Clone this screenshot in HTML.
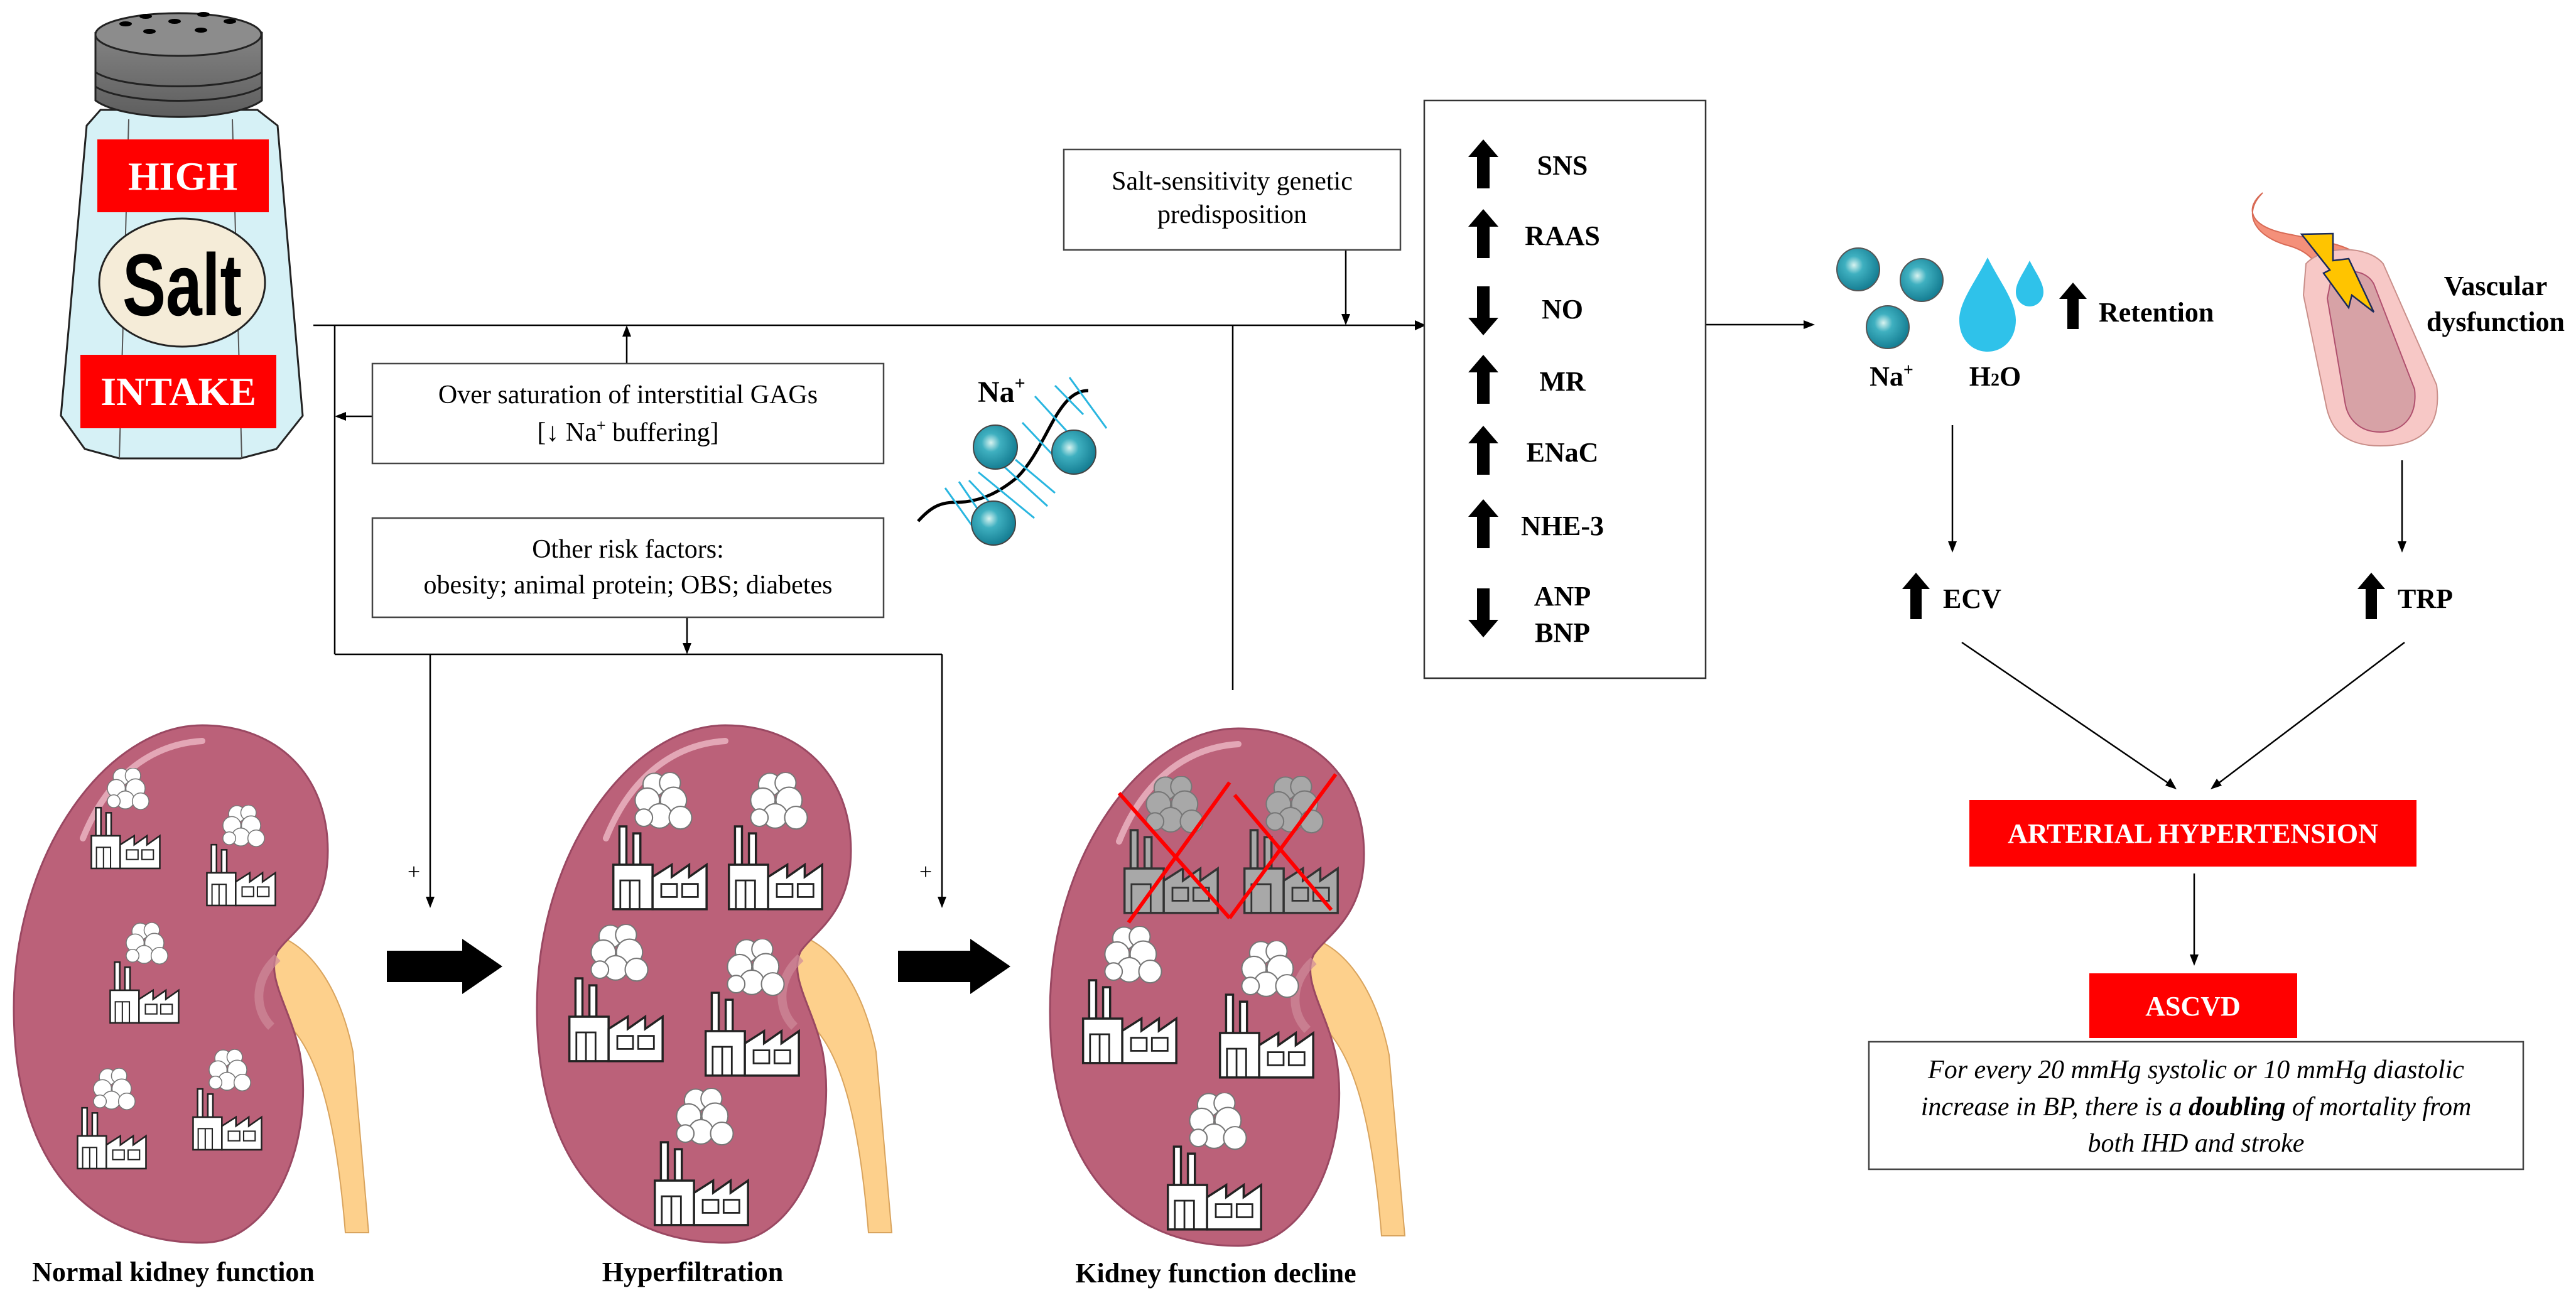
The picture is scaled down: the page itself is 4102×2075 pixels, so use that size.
<!DOCTYPE html>
<html><head><meta charset="utf-8"><style>
html,body{margin:0;padding:0;background:#fff;font-family:"Liberation Serif","DejaVu Serif",serif}
svg{display:block}
svg text{font-family:"Liberation Serif","DejaVu Serif",serif}
svg text.sans{font-family:"Liberation Sans","DejaVu Sans",sans-serif}
</style></head><body>
<svg width="4102" height="2075" viewBox="0 0 4102 2075" xmlns="http://www.w3.org/2000/svg">
<defs>
<radialGradient id="sph" cx="0.4" cy="0.4" r="0.6"><stop offset="0" stop-color="#d8f3f0"/><stop offset="0.35" stop-color="#3fb0c0"/><stop offset="1" stop-color="#167f94"/></radialGradient>
<linearGradient id="cap" x1="0" y1="0" x2="0" y2="1"><stop offset="0" stop-color="#8a8a8a"/><stop offset="1" stop-color="#5e5e5e"/></linearGradient>
<symbol id="fac" viewBox="0 0 120 160">
<g fill="#fff" stroke="#777" stroke-width="1.5">
<circle cx="52" cy="14" r="13"/><circle cx="70" cy="12" r="12"/><circle cx="44" cy="32" r="14"/><circle cx="74" cy="32" r="15"/><circle cx="58" cy="50" r="14"/><circle cx="82" cy="52" r="13"/><circle cx="40" cy="52" r="10"/>
</g>
<g fill="#fff" stroke="#222" stroke-width="2.5">
<rect x="12" y="62" width="8" height="44"/><rect x="28" y="70" width="8" height="36"/>
<rect x="5" y="106" width="45" height="51"/>
<path d="M50 157 V120 L72 106 V120 L92 106 V120 L112 106 V157 Z"/>
<rect x="13" y="124" width="22" height="33" fill="none" stroke-width="2"/>
<line x1="24" y1="124" x2="24" y2="157" stroke-width="2"/>
<rect x="60" y="128" width="18" height="15" stroke-width="2"/><rect x="84" y="128" width="18" height="15" stroke-width="2"/>
</g>
</symbol>
<symbol id="facg" viewBox="0 0 120 160">
<g fill="#a8a8a8" stroke="#777" stroke-width="1.5">
<circle cx="52" cy="14" r="13"/><circle cx="70" cy="12" r="12"/><circle cx="44" cy="32" r="14"/><circle cx="74" cy="32" r="15"/><circle cx="58" cy="50" r="14"/><circle cx="82" cy="52" r="13"/><circle cx="40" cy="52" r="10"/>
</g>
<g fill="#a8a8a8" stroke="#333" stroke-width="2.5">
<rect x="12" y="62" width="8" height="44"/><rect x="28" y="70" width="8" height="36"/>
<rect x="5" y="106" width="45" height="51"/>
<path d="M50 157 V120 L72 106 V120 L92 106 V120 L112 106 V157 Z"/>
<rect x="13" y="124" width="22" height="33" fill="none" stroke-width="2"/>
<rect x="60" y="128" width="18" height="15" stroke-width="2"/><rect x="84" y="128" width="18" height="15" stroke-width="2"/>
</g>
</symbol>
<g id="kid">
<path d="M400 330 C470 340 520 420 540 520 L565 808 L528 808 C515 650 490 520 430 470 Z" fill="#fdd08c" stroke="#d9a45e" stroke-width="2"/>
<path d="M300 0 C420 0 500 80 500 200 C500 300 440 330 420 360 C400 400 440 450 455 520 C480 650 420 824 300 824 C120 824 0 700 0 450 C0 200 150 0 300 0 Z" fill="#bb6179" stroke="#9a4862" stroke-width="3"/>
<path d="M110 180 C150 80 220 30 300 25" fill="none" stroke="#e3a7b6" stroke-width="10" stroke-linecap="round"/>
<path d="M420 370 C385 400 380 450 410 480" fill="none" stroke="#cf8a9a" stroke-width="14" opacity="0.7"/>
</g>
</defs>

<path d="M138 200 L160 175 L410 175 L442 200 L482 662 L440 715 L383 730 L190 730 L135 715 L97 662 Z" fill="#d6f1f6" stroke="#222" stroke-width="3"/>
<path d="M205 190 L190 730 M370 190 L385 730" stroke="#555" stroke-width="2" fill="none"/>
<path d="M152 52 C200 22 370 22 417 52 L417 160 C370 195 200 195 152 160 Z" fill="url(#cap)" stroke="#222" stroke-width="3"/>
<ellipse cx="284" cy="55" rx="132" ry="34" fill="#8c8c8c" stroke="#222" stroke-width="3"/>
<path d="M152 115 C200 145 370 145 417 115 M152 138 C200 168 370 168 417 138" stroke="#222" stroke-width="3" fill="none"/>
<g fill="#000"><ellipse cx="200" cy="38" rx="10" ry="4"/><ellipse cx="232" cy="26" rx="10" ry="4"/><ellipse cx="278" cy="34" rx="10" ry="4"/><ellipse cx="324" cy="23" rx="10" ry="4"/><ellipse cx="366" cy="34" rx="10" ry="4"/><ellipse cx="238" cy="50" rx="10" ry="4"/><ellipse cx="320" cy="48" rx="10" ry="4"/></g>
<rect x="155" y="222" width="273" height="116" fill="#ff0000"/>
<text x="291" y="302" font-size="64" font-weight="bold" fill="#fff" text-anchor="middle">HIGH</text>
<ellipse cx="290" cy="450" rx="132" ry="102" fill="#f5ecd8" stroke="#222" stroke-width="3"/>
<text class="sans" x="290" y="502" font-size="140" font-weight="bold" fill="#000" text-anchor="middle" textLength="190" lengthAdjust="spacingAndGlyphs">Salt</text>
<rect x="128" y="565" width="312" height="117" fill="#ff0000"/>
<text x="284" y="645" font-size="64" font-weight="bold" fill="#fff" text-anchor="middle">INTAKE</text>

<g stroke="#000" stroke-width="2.5" fill="none">
<line x1="499" y1="518" x2="2258" y2="518"/>
<line x1="533" y1="518" x2="533" y2="1042"/>
<line x1="533" y1="1042" x2="1500" y2="1042"/>
<line x1="685" y1="1042" x2="685" y2="1430"/>
<line x1="1500" y1="1042" x2="1500" y2="1430"/>
<line x1="1963" y1="518" x2="1963" y2="1099"/>
<line x1="998" y1="579" x2="998" y2="532"/>
<line x1="593" y1="663" x2="548" y2="663"/>
<line x1="1094" y1="983" x2="1094" y2="1028"/>
<line x1="2143" y1="398" x2="2143" y2="503"/>
<line x1="2716" y1="517" x2="2875" y2="517"/>
<line x1="3109" y1="677" x2="3109" y2="866"/>
<line x1="3825" y1="733" x2="3825" y2="866"/>
<line x1="3124" y1="1023" x2="3457" y2="1250"/>
<line x1="3829" y1="1023" x2="3529" y2="1250"/>
<line x1="3494" y1="1391" x2="3494" y2="1524"/>
</g>
<g fill="#000">
<path d="M2271 518 l-18 -8 v16 z"/>
<path d="M998 518 l-7 18 h14 z"/>
<path d="M533 663 l18 -7 v14 z"/>
<path d="M1094 1042 l-7 -18 h14 z"/>
<path d="M685 1446 l-7 -18 h14 z"/>
<path d="M1500 1446 l-7 -18 h14 z"/>
<path d="M2143 518 l-7 -18 h14 z"/>
<path d="M2890 517 l-18 -7 v14 z"/>
<path d="M3109 880 l-7 -18 h14 z"/>
<path d="M3825 880 l-7 -18 h14 z"/>
<path d="M3466 1257 l-18 -6 l8 -12 z"/>
<path d="M3520 1257 l10 -17 l8 11 z"/>
<path d="M3494 1538 l-7 -18 h14 z"/>
</g>

<rect x="1694" y="238" width="536" height="160" fill="#fff" stroke="#444" stroke-width="2.5"/>
<text x="1962" y="302" font-size="42" text-anchor="middle">Salt-sensitivity genetic</text>
<text x="1962" y="355" font-size="42" text-anchor="middle">predisposition</text>
<rect x="593" y="579" width="814" height="159" fill="#fff" stroke="#444" stroke-width="2.5"/>
<text x="1000" y="642" font-size="42" text-anchor="middle">Over saturation of interstitial GAGs</text>
<text x="1000" y="702" font-size="42" text-anchor="middle">[↓ Na<tspan font-size="26" dy="-16">+</tspan><tspan dy="16"> buffering]</tspan></text>
<rect x="593" y="825" width="814" height="158" fill="#fff" stroke="#444" stroke-width="2.5"/>
<text x="1000" y="888" font-size="42" text-anchor="middle">Other risk factors:</text>
<text x="1000" y="945" font-size="42" text-anchor="middle">obesity; animal protein; OBS; diabetes</text>

<text x="1557" y="640" font-size="48" font-weight="bold">Na<tspan font-size="30" dy="-20">+</tspan></text>
<path d="M1462 830 C1480 810 1495 800 1520 800 C1560 800 1590 785 1620 760 C1645 735 1660 700 1680 665 C1695 640 1710 622 1733 622" fill="none" stroke="#000" stroke-width="5"/>
<g stroke="#29b6e0" stroke-width="3">
<line x1="1505" y1="777" x2="1550" y2="840"/><line x1="1527" y1="767" x2="1570" y2="830"/><line x1="1543" y1="765" x2="1600" y2="825"/><line x1="1558" y1="752" x2="1647" y2="825"/>
<line x1="1590" y1="735" x2="1668" y2="806"/><line x1="1617" y1="732" x2="1680" y2="785"/><line x1="1628" y1="673" x2="1677" y2="725"/>
<line x1="1648" y1="631" x2="1700" y2="688"/><line x1="1680" y1="614" x2="1725" y2="660"/><line x1="1703" y1="601" x2="1762" y2="682"/>
</g>
<circle cx="1585" cy="712" r="35" fill="url(#sph)" stroke="#444" stroke-width="2"/>
<circle cx="1710" cy="720" r="35" fill="url(#sph)" stroke="#444" stroke-width="2"/>
<circle cx="1582" cy="833" r="35" fill="url(#sph)" stroke="#444" stroke-width="2"/>

<rect x="2268" y="160" width="448" height="920" fill="#fff" stroke="#333" stroke-width="2.5"/>
<g fill="#000">
<path d="M2362 222 l-24 28 h14 v50 h20 v-50 h14 z"/>
<path d="M2362 333 l-24 28 h14 v50 h20 v-50 h14 z"/>
<path d="M2362 534 l-24 -28 h14 v-50 h20 v50 h14 z"/>
<path d="M2362 565 l-24 28 h14 v50 h20 v-50 h14 z"/>
<path d="M2362 678 l-24 28 h14 v50 h20 v-50 h14 z"/>
<path d="M2362 795 l-24 28 h14 v50 h20 v-50 h14 z"/>
<path d="M2362 1015 l-24 -28 h14 v-50 h20 v50 h14 z"/>
</g>
<g font-size="44" font-weight="bold" text-anchor="middle">
<text x="2488" y="278">SNS</text><text x="2488" y="390">RAAS</text><text x="2488" y="507">NO</text><text x="2488" y="622">MR</text>
<text x="2488" y="735">ENaC</text><text x="2488" y="852">NHE-3</text><text x="2488" y="964">ANP</text><text x="2488" y="1022">BNP</text>
</g>

<circle cx="2959" cy="429" r="34" fill="url(#sph)" stroke="#555" stroke-width="2"/>
<circle cx="3060" cy="446" r="34" fill="url(#sph)" stroke="#555" stroke-width="2"/>
<circle cx="3006" cy="521" r="34" fill="url(#sph)" stroke="#555" stroke-width="2"/>
<path d="M3165 410 C3145 450 3120 480 3120 510 C3120 540 3140 560 3165 560 C3190 560 3210 540 3210 510 C3210 480 3185 450 3165 410 Z" fill="#2fc2ea"/>
<path d="M3232 415 C3222 435 3210 450 3210 465 C3210 478 3220 488 3232 488 C3244 488 3254 478 3254 465 C3254 450 3242 435 3232 415 Z" fill="#2fc2ea"/>
<path d="M3301 450 l-22 26 h13 v48 h18 v-48 h13 z" fill="#000"/>
<text x="3342" y="512" font-size="44" font-weight="bold">Retention</text>
<text x="3012" y="614" font-size="44" font-weight="bold" text-anchor="middle">Na<tspan font-size="28" dy="-16">+</tspan></text>
<text x="3177" y="614" font-size="44" font-weight="bold" text-anchor="middle">H<tspan font-size="28">2</tspan>O</text>

<path d="M3603 307 C3575 330 3580 360 3640 372 C3700 384 3740 390 3760 410 L3770 430 L3700 445 C3690 420 3680 400 3640 390 C3590 375 3570 340 3603 307 Z" fill="#f4907a" stroke="#d86a55" stroke-width="2"/>
<path d="M3672 420 C3700 390 3770 390 3795 420 L3880 613 C3890 690 3845 710 3790 710 C3730 710 3712 680 3705 650 L3668 470 Z" fill="#f7c8c6" stroke="#c98f8a" stroke-width="2"/>
<path d="M3712 445 C3735 425 3768 430 3780 452 L3845 620 C3850 668 3822 688 3790 688 C3758 688 3738 668 3734 640 L3706 475 Z" fill="#d7a2a6" stroke="#b0506e" stroke-width="2"/>
<path d="M3665 373 L3715 372 L3715 415 L3740 412 L3780 497 L3745 470 L3740 490 L3700 435 L3710 430 Z" fill="#ffc400" stroke="#1a2a5a" stroke-width="2.5"/>
<text x="3974" y="470" font-size="44" font-weight="bold" text-anchor="middle">Vascular</text>
<text x="3974" y="527" font-size="44" font-weight="bold" text-anchor="middle">dysfunction</text>

<path d="M3051 912 l-22 26 h13 v48 h18 v-48 h13 z" fill="#000"/>
<text x="3094" y="968" font-size="44" font-weight="bold">ECV</text>
<path d="M3776 912 l-22 26 h13 v48 h18 v-48 h13 z" fill="#000"/>
<text x="3818" y="968" font-size="44" font-weight="bold">TRP</text>

<rect x="3136" y="1274" width="712" height="106" fill="#ff0000"/>
<text x="3492" y="1342" font-size="44" font-weight="bold" fill="#fff" text-anchor="middle">ARTERIAL HYPERTENSION</text>
<rect x="3327" y="1550" width="331" height="103" fill="#ff0000"/>
<text x="3492" y="1617" font-size="44" font-weight="bold" fill="#fff" text-anchor="middle">ASCVD</text>
<rect x="2976" y="1659" width="1042" height="203" fill="#fff" stroke="#444" stroke-width="2.5"/>
<g font-size="42" font-style="italic" text-anchor="middle">
<text x="3497" y="1717">For every 20 mmHg systolic or 10 mmHg diastolic</text>
<text x="3497" y="1776">increase in BP, there is a <tspan font-weight="bold">doubling</tspan> of mortality from</text>
<text x="3497" y="1834">both IHD and stroke</text>
</g>

<use href="#kid" x="22" y="1155"/>
<use href="#kid" x="855" y="1155"/>
<use href="#kid" x="1672" y="1160"/>
<use href="#fac" x="139" y="1223" width="125" height="163"/>
<use href="#fac" x="323" y="1282" width="125" height="163"/>
<use href="#fac" x="169" y="1469" width="125" height="163"/>
<use href="#fac" x="117" y="1701" width="125" height="163"/>
<use href="#fac" x="301" y="1671" width="125" height="163"/>
<use href="#fac" x="968" y="1230" width="170" height="222"/>
<use href="#fac" x="1152" y="1230" width="170" height="222"/>
<use href="#fac" x="898" y="1472" width="170" height="222"/>
<use href="#fac" x="1115" y="1495" width="170" height="222"/>
<use href="#fac" x="1034" y="1733" width="170" height="222"/>
<use href="#facg" x="1782" y="1236" width="170" height="222"/>
<use href="#facg" x="1973" y="1236" width="170" height="222"/>
<use href="#fac" x="1716" y="1475" width="170" height="222"/>
<use href="#fac" x="1934" y="1498" width="170" height="222"/>
<use href="#fac" x="1851" y="1740" width="170" height="222"/>
<g stroke="#ff0000" stroke-width="6">
<line x1="1782" y1="1263" x2="1958" y2="1462"/><line x1="1958" y1="1246" x2="1797" y2="1469"/>
<line x1="2127" y1="1233" x2="1958" y2="1462"/><line x1="1966" y1="1266" x2="2120" y2="1449"/>
</g>
<path d="M616 1514 h120 v-19 l64 44 l-64 44 v-19 h-120 z" fill="#000"/>
<path d="M1430 1514 h115 v-19 l64 44 l-64 44 v-19 h-115 z" fill="#000"/>
<text x="659" y="1400" font-size="36" text-anchor="middle">+</text>
<text x="1474" y="1400" font-size="36" text-anchor="middle">+</text>
<g font-size="44" font-weight="bold" text-anchor="middle">
<text x="276" y="2040">Normal kidney function</text>
<text x="1103" y="2040">Hyperfiltration</text>
<text x="1936" y="2042">Kidney function decline</text>
</g>
</svg>
</body></html>
